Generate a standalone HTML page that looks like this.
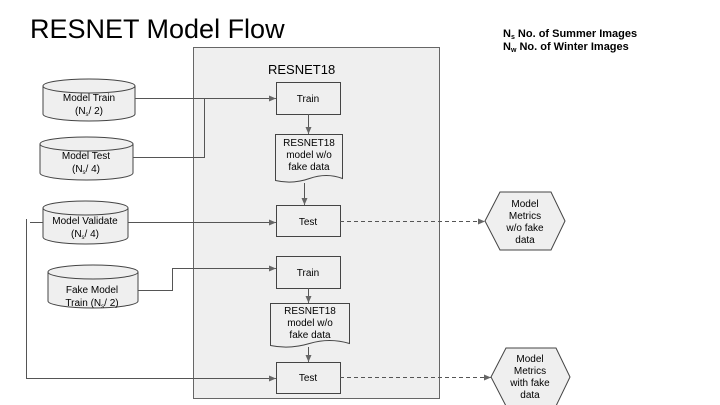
<!DOCTYPE html>
<html><head><meta charset="utf-8"><style>
html,body{margin:0;padding:0;background:#fff;}
svg{display:block;font-family:"Liberation Sans",Arial,sans-serif;}
</style></head><body>
<svg width="720" height="405" viewBox="0 0 720 405" xmlns="http://www.w3.org/2000/svg">
<defs>
<marker id="a" markerWidth="8" markerHeight="8" refX="7" refY="4" orient="auto" markerUnits="userSpaceOnUse"><path d="M0,1 L7,4 L0,7 z" fill="#666"/></marker>
</defs>
<text x="30" y="38" font-size="27" fill="#000">RESNET Model Flow</text>
<text x="503" y="37" font-size="11" font-weight="bold">N<tspan font-size="7" dy="2">s</tspan><tspan dy="-2">  No. of Summer Images</tspan></text>
<text x="503" y="50" font-size="11" font-weight="bold">N<tspan font-size="7" dy="2">w</tspan><tspan dy="-2"> No. of Winter Images</tspan></text>
<rect x="193.5" y="47.5" width="246" height="351" fill="#efefef" stroke="#666"/>
<text x="268" y="74" font-size="13">RESNET18</text>
<g fill="#efefef" stroke="#444" stroke-width="1">
<!-- cylinders -->
<path d="M43,86 v28 a46,7 0 0 0 92,0 v-28"/><ellipse cx="89" cy="86" rx="46" ry="7"/>
<path d="M40,144 v29 a46.5,7 0 0 0 93,0 v-29"/><ellipse cx="86.5" cy="144" rx="46.5" ry="7"/>
<path d="M43,208 v29 a42.5,7 0 0 0 85,0 v-29"/><ellipse cx="85.5" cy="208" rx="42.5" ry="7"/>
<path d="M48,272 v29 a45,7 0 0 0 90,0 v-29"/><ellipse cx="93" cy="272" rx="45" ry="7"/>
<!-- boxes -->
<rect x="276.5" y="82.5" width="64" height="32"/>
<path d="M275.5,134.5 h67 v44 q-16,-6 -33,0 t-34,2 z"/>
<rect x="276.5" y="205.5" width="64" height="31"/>
<rect x="276.5" y="256.5" width="64" height="32"/>
<path d="M270.5,303.5 h79 v40 q-20,-6 -40,0 t-39,2 z"/>
<rect x="276.5" y="362.5" width="64" height="31"/>
<!-- hexagons -->
<path d="M485,221 L500,192 L551,192 L565,221 L551,250 L500,250 z"/>
<path d="M491,377 L506,348 L556,348 L570,377 L556,406 L506,406 z"/>
</g>
<g fill="none" stroke="#555" stroke-width="1">
<path d="M135,98.5 H276" marker-end="url(#a)"/>
<path d="M133,157.5 H204.5 V98.5"/>
<path d="M128,222.5 H276" marker-end="url(#a)"/>
<path d="M43,222.5 H30"/>
<path d="M26.5,219 V378.5 H276" marker-end="url(#a)"/>
<path d="M138,290.5 H172.5 V268.5 H276" marker-end="url(#a)"/>
<path d="M308.5,114 V134" marker-end="url(#a)"/>
<path d="M304.5,183 V205" marker-end="url(#a)"/>
<path d="M308.5,288 V303" marker-end="url(#a)"/>
<path d="M308.5,347 V362" marker-end="url(#a)"/>
<path d="M340,221.5 H485" stroke-dasharray="4,3" marker-end="url(#a)"/>
<path d="M340,377.5 H491" stroke-dasharray="4,3" marker-end="url(#a)"/>
</g>
<g font-size="10" text-anchor="middle" fill="#000">
<text x="89" y="101">Model Train</text><text x="89" y="114">(N<tspan font-size="6" dy="2">s</tspan><tspan dy="-2">/ 2)</tspan></text>
<text x="86" y="159">Model Test</text><text x="86" y="172">(N<tspan font-size="6" dy="2">s</tspan><tspan dy="-2">/ 4)</tspan></text>
<text x="85" y="224">Model Validate</text><text x="85" y="237">(N<tspan font-size="6" dy="2">s</tspan><tspan dy="-2">/ 4)</tspan></text>
<text x="92" y="293">Fake Model</text><text x="92" y="306">Train (N<tspan font-size="6" dy="2">s</tspan><tspan dy="-2">/ 2)</tspan></text>
<text x="308" y="102">Train</text>
<text x="309" y="146">RESNET18</text><text x="309" y="158">model w/o</text><text x="309" y="170">fake data</text>
<text x="308" y="225">Test</text>
<text x="308" y="276">Train</text>
<text x="310" y="314">RESNET18</text><text x="310" y="326">model w/o</text><text x="310" y="338">fake data</text>
<text x="308" y="381">Test</text>
<text x="525" y="207">Model</text><text x="525" y="219">Metrics</text><text x="525" y="231">w/o fake</text><text x="525" y="243">data</text>
<text x="530" y="362">Model</text><text x="530" y="374">Metrics</text><text x="530" y="386">with fake</text><text x="530" y="398">data</text>
</g>
</svg>
</body></html>
